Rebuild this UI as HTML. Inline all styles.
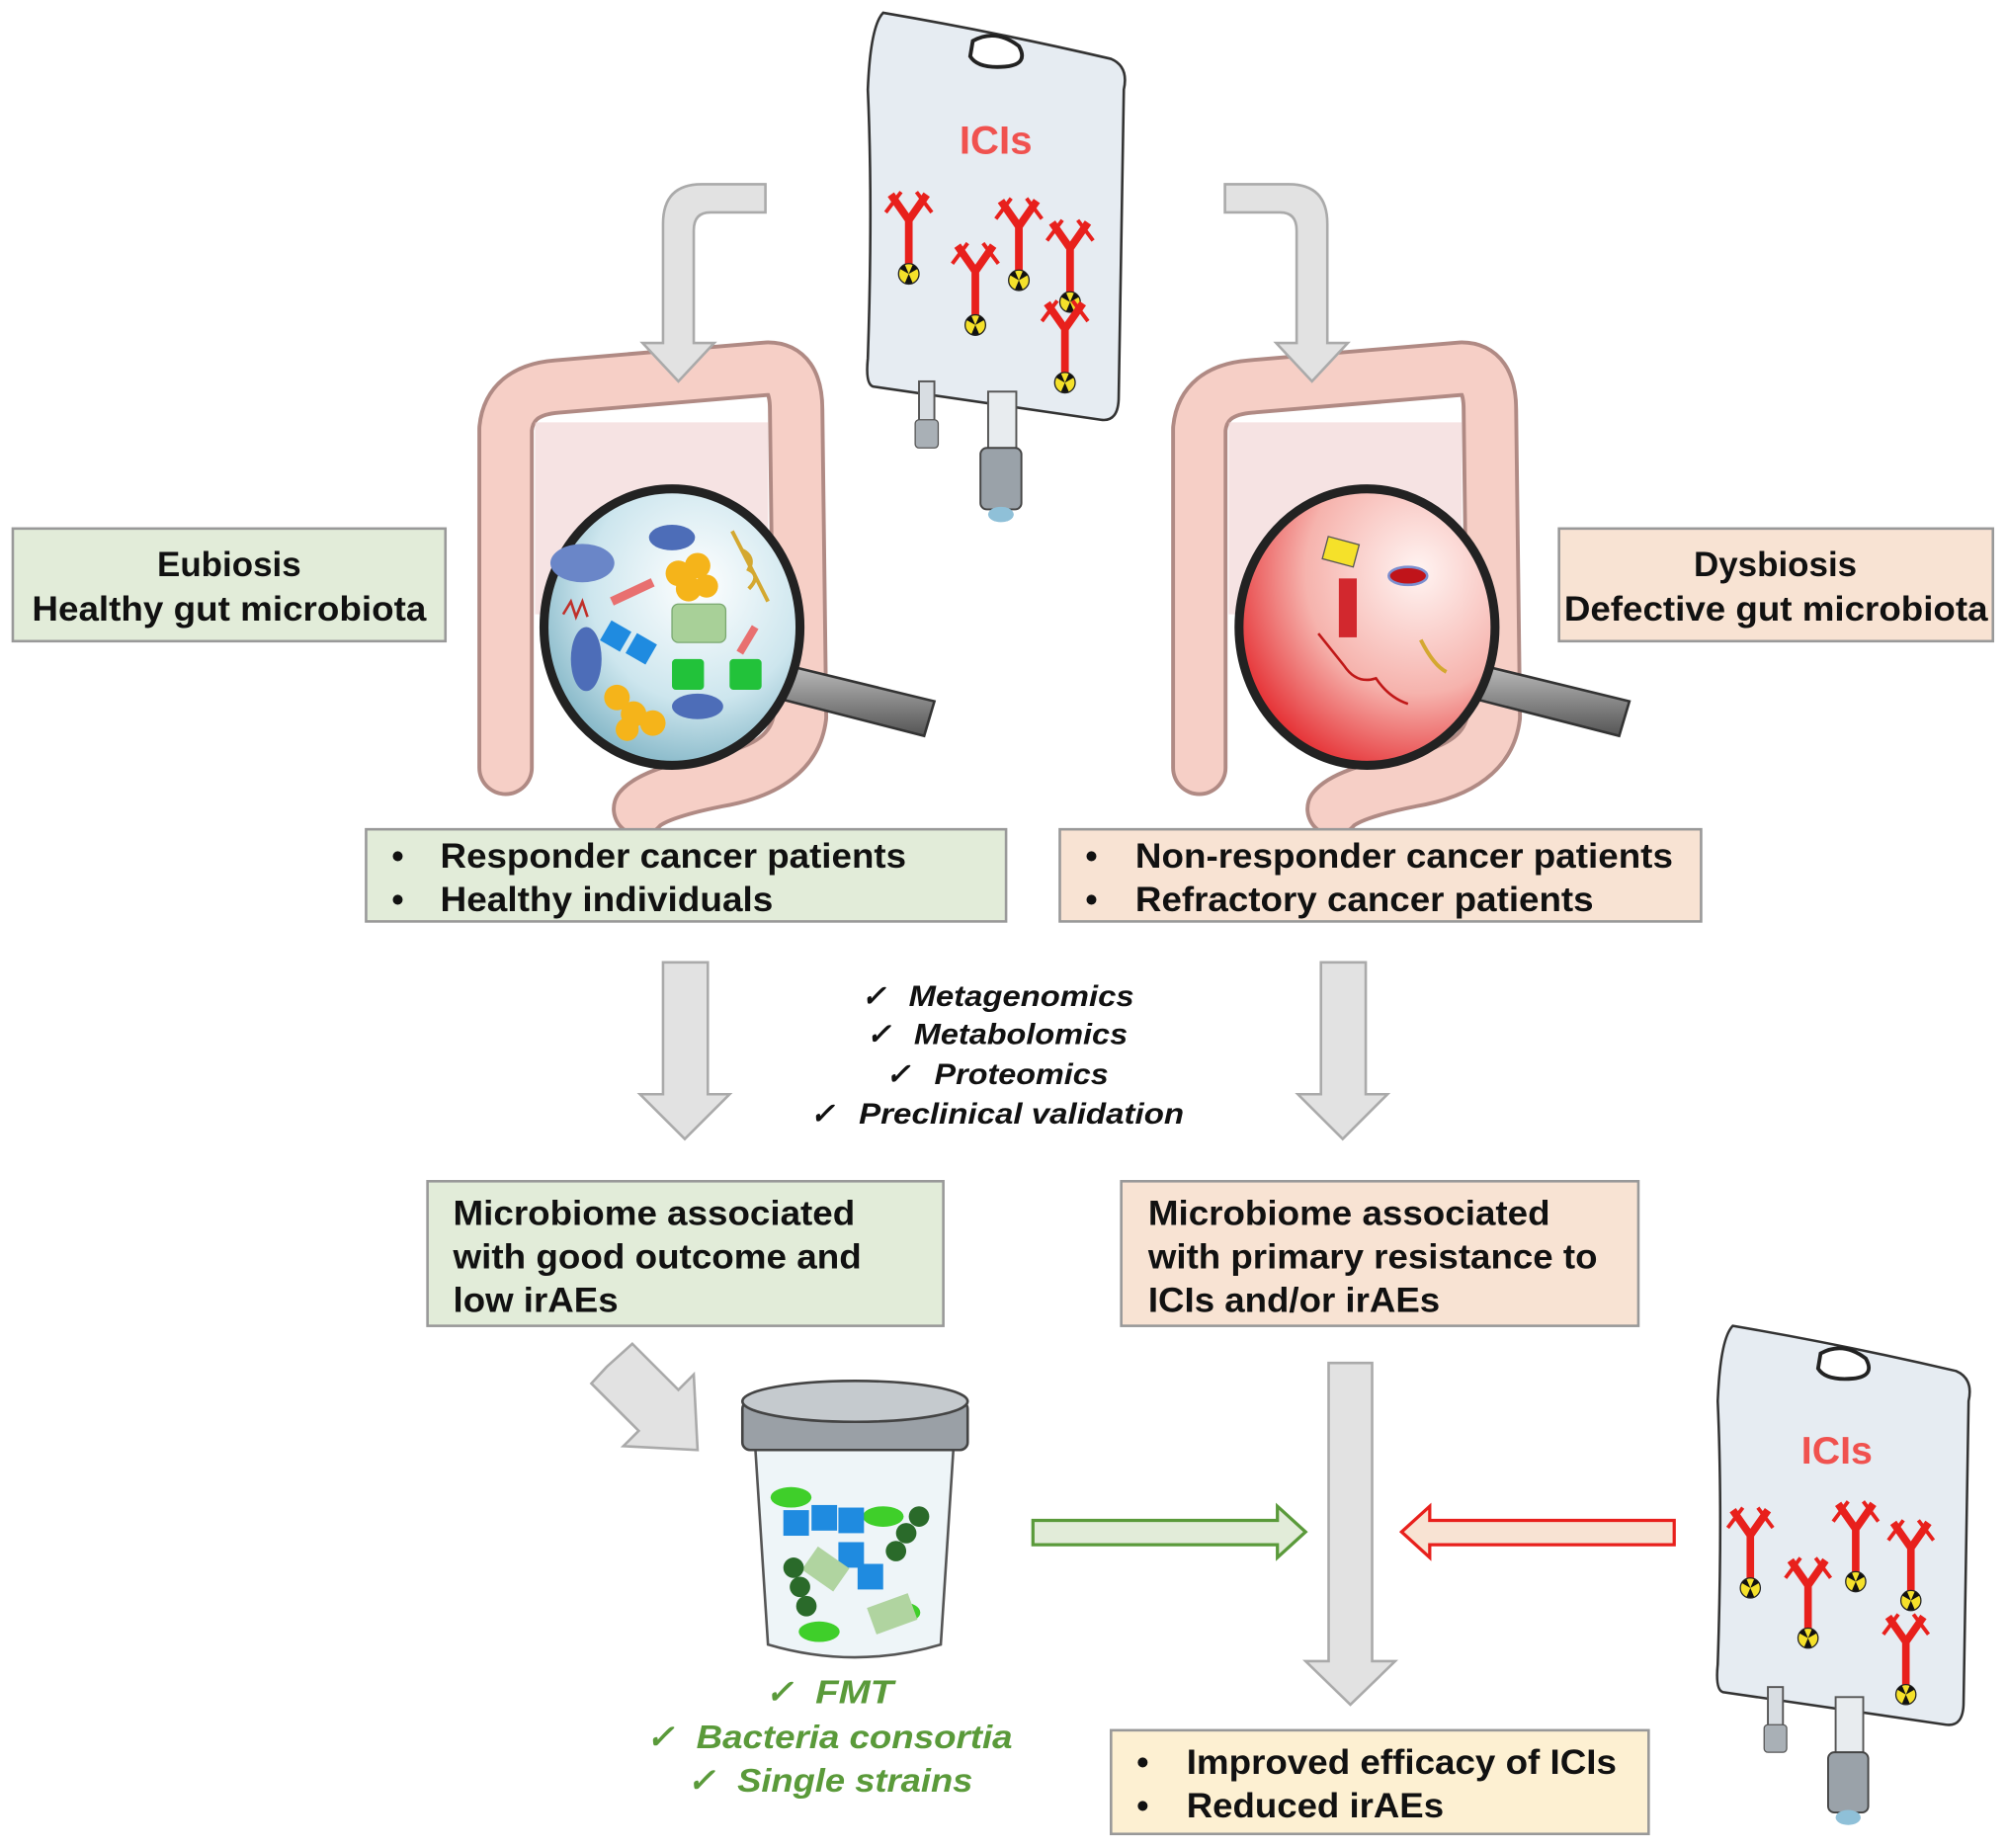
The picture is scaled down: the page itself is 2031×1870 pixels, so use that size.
<!DOCTYPE html>
<html><head><meta charset="utf-8"><style>
html,body{margin:0;padding:0;background:#fff}
svg{display:block}
text{font-family:"Liberation Sans",Arial,sans-serif}
</style></head><body>
<svg width="2031" height="1870" viewBox="0 0 1568 1444" preserveAspectRatio="none" xmlns="http://www.w3.org/2000/svg">
<defs>
<radialGradient id="gL" cx="0.6" cy="0.35" r="0.7"><stop offset="0" stop-color="#ffffff"/><stop offset="0.6" stop-color="#cde6ee"/><stop offset="1" stop-color="#7fb3c4"/></radialGradient>
<radialGradient id="gR" cx="0.7" cy="0.3" r="0.8"><stop offset="0" stop-color="#fff4f2"/><stop offset="0.55" stop-color="#f6b3ad"/><stop offset="1" stop-color="#e4262b"/></radialGradient>
<linearGradient id="hdl" x1="0" y1="0" x2="0" y2="1"><stop offset="0" stop-color="#bbb"/><stop offset="1" stop-color="#555"/></linearGradient>
<g id="ab">
  <path d="M0,0 L0,-38 M0,-38 L-14,-58 M0,-38 L14,-58" stroke="#e8201c" stroke-width="6" fill="none"/>
  <path d="M-6,-60 L-18,-44 M6,-60 L18,-44" stroke="#e8201c" stroke-width="3" fill="none"/>
  <circle cx="0" cy="4" r="8" fill="#f5e12a" stroke="#222" stroke-width="1"/>
  <path d="M0,4 L-7,0 A8,8 0 0 1 -3,-3 Z M0,4 L7,0 A8,8 0 0 0 3,-3 Z M0,4 L-3,11 A8,8 0 0 0 3,11 Z" fill="#111"/>
</g>
<g id="bag">
  <path d="M12,0 Q100,15 190,36 Q204,42 200,60 L196,300 Q196,320 182,318 L4,292 Q-2,290 0,270 Q4,150 0,60 Q2,10 12,0 Z" fill="#e6ecf2" stroke="#333" stroke-width="2"/>
  <path d="M82,22 Q100,12 118,26 Q126,40 108,42 Q86,44 80,34 Z" fill="#fff" stroke="#222" stroke-width="3"/>
  <rect x="40" y="288" width="12" height="40" fill="#d8dde2" stroke="#555" stroke-width="1.5"/>
  <rect x="37" y="318" width="18" height="22" rx="3" fill="#a9b0b6" stroke="#555"/>
  <rect x="94" y="296" width="22" height="50" fill="#e8ecef" stroke="#555" stroke-width="1.5"/>
  <rect x="88" y="340" width="32" height="48" rx="5" fill="#9aa2a9" stroke="#444" stroke-width="1.5"/>
  <ellipse cx="104" cy="392" rx="10" ry="6" fill="#8fc0d8"/>
</g>
</defs>

<!-- top bag -->
<g transform="translate(678,10)"><use href="#bag"/>
<text x="100" y="110" font-size="31" font-weight="bold" fill="#f0524f" text-anchor="middle">ICIs</text>
<use href="#ab" x="32" y="200"/><use href="#ab" x="84" y="240"/><use href="#ab" x="118" y="205"/><use href="#ab" x="158" y="222"/><use href="#ab" x="154" y="285"/>
</g>
<!-- bottom bag -->
<g transform="translate(1342,1036) scale(0.98)"><use href="#bag"/>
<text x="95" y="110" font-size="31" font-weight="bold" fill="#f0524f" text-anchor="middle">ICIs</text>
<use href="#ab" x="26" y="205"/><use href="#ab" x="72" y="245"/><use href="#ab" x="110" y="200"/><use href="#ab" x="154" y="215"/><use href="#ab" x="150" y="290"/>
</g>

<!-- colons -->
<g fill="none" stroke-linecap="round" stroke-linejoin="round">
<path d="M395,600 L395,335 Q398,305 435,302 L600,288 Q622,288 622,320 L625,560 Q620,600 560,610 Q510,620 500,632" stroke="#b08a84" stroke-width="44"/>
<path d="M395,600 L395,335 Q398,305 435,302 L600,288 Q622,288 622,320 L625,560 Q620,600 560,610 Q510,620 500,632" stroke="#f6cfc6" stroke-width="38"/>
<path d="M937,600 L937,335 Q940,305 977,302 L1142,288 Q1164,288 1164,320 L1167,560 Q1162,600 1102,610 Q1052,620 1042,632" stroke="#b08a84" stroke-width="44"/>
<path d="M937,600 L937,335 Q940,305 977,302 L1142,288 Q1164,288 1164,320 L1167,560 Q1162,600 1102,610 Q1052,620 1042,632" stroke="#f6cfc6" stroke-width="38"/>
</g>
<rect x="418" y="330" width="182" height="150" fill="#f0d0d0" opacity="0.6"/>
<rect x="960" y="330" width="182" height="150" fill="#f0d0d0" opacity="0.6"/>

<!-- curved arrows top -->
<path d="M598,144 L598,166 L555,166 Q542,166 542,180 L542,268 L558,268 L530,298 L502,268 L518,268 L518,175 Q518,144 548,144 Z" fill="#e2e2e2" stroke="#aaa" stroke-width="2"/>
<path d="M957,144 L957,166 L1000,166 Q1013,166 1013,180 L1013,268 L997,268 L1025,298 L1053,268 L1037,268 L1037,175 Q1037,144 1007,144 Z" fill="#e2e2e2" stroke="#aaa" stroke-width="2"/>

<!-- left magnifier -->
<path d="M615,520 L730,548 L722,575 L605,545 Z" fill="url(#hdl)" stroke="#333" stroke-width="2"/>
<ellipse cx="525" cy="490" rx="100" ry="108" fill="url(#gL)" stroke="#222" stroke-width="7"/>
<ellipse cx="455" cy="440" rx="25" ry="15" fill="#6a86c8"/>
<ellipse cx="525" cy="420" rx="18" ry="10" fill="#4d6db8"/>
<ellipse cx="458" cy="515" rx="12" ry="25" fill="#4d6db8"/>
<ellipse cx="545" cy="552" rx="20" ry="10" fill="#4d6db8"/>
<circle cx="530" cy="448" r="10" fill="#f5b41a"/><circle cx="545" cy="442" r="10" fill="#f5b41a"/><circle cx="538" cy="460" r="10" fill="#f5b41a"/><circle cx="552" cy="458" r="9" fill="#f5b41a"/>
<circle cx="482" cy="545" r="10" fill="#f5b41a"/><circle cx="495" cy="558" r="10" fill="#f5b41a"/><circle cx="510" cy="565" r="10" fill="#f5b41a"/><circle cx="490" cy="570" r="9" fill="#f5b41a"/>
<rect x="525" y="472" width="42" height="30" rx="5" fill="#a8d098" stroke="#7aa870"/>
<rect x="525" y="515" width="25" height="24" rx="3" fill="#22c23a"/><rect x="570" y="515" width="25" height="24" rx="3" fill="#22c23a"/>
<rect x="472" y="488" width="18" height="18" fill="#1f8be0" transform="rotate(30 481 497)"/><rect x="492" y="498" width="18" height="18" fill="#1f8be0" transform="rotate(30 501 507)"/>
<path d="M478,470 L510,455" stroke="#e87070" stroke-width="7"/><path d="M590,490 L578,510" stroke="#e87070" stroke-width="6"/>
<path d="M572,415 Q590,450 600,470 M580,430 q10,5 5,15 q10,5 0,15" stroke="#d4a830" stroke-width="3" fill="none"/>
<path d="M440,480 l6,-10 l4,12 l5,-12 l4,12" stroke="#c0302a" stroke-width="2" fill="none"/>

<!-- right magnifier -->
<path d="M1158,520 L1273,548 L1265,575 L1148,545 Z" fill="url(#hdl)" stroke="#333" stroke-width="2"/>
<ellipse cx="1068" cy="490" rx="100" ry="108" fill="url(#gR)" stroke="#222" stroke-width="7"/>
<rect x="1035" y="422" width="25" height="18" fill="#f5e12a" stroke="#555" transform="rotate(15 1047 431)"/>
<ellipse cx="1100" cy="450" rx="15" ry="7" fill="#c0141a" stroke="#7b8fd0" stroke-width="2"/>
<rect x="1046" y="452" width="14" height="46" fill="#d2282e"/>
<path d="M1030,495 L1050,520 M1050,520 q10,15 25,10 q10,15 25,20" stroke="#c01818" stroke-width="2" fill="none"/>
<path d="M1110,500 q10,20 20,25" stroke="#d4a830" stroke-width="3" fill="none"/>

<!-- text boxes -->
<g font-weight="bold" fill="#111" font-size="27">
<rect x="10" y="413" width="338" height="88" fill="#e2ecd9" stroke="#999" stroke-width="2"/>
<text x="179" y="450" text-anchor="middle">Eubiosis</text>
<text x="25" y="485" textLength="308" lengthAdjust="spacingAndGlyphs">Healthy gut microbiota</text>
<rect x="1218" y="413" width="339" height="88" fill="#f8e3d3" stroke="#999" stroke-width="2"/>
<text x="1387" y="450" text-anchor="middle">Dysbiosis</text>
<text x="1222" y="485" textLength="331" lengthAdjust="spacingAndGlyphs">Defective gut microbiota</text>

<rect x="286" y="648" width="500" height="72" fill="#e2ecd9" stroke="#999" stroke-width="2"/>
<text x="306" y="678">•</text><text x="344" y="678" textLength="364" lengthAdjust="spacingAndGlyphs">Responder cancer patients</text>
<text x="306" y="712">•</text><text x="344" y="712" textLength="260" lengthAdjust="spacingAndGlyphs">Healthy individuals</text>
<rect x="828" y="648" width="501" height="72" fill="#f8e3d3" stroke="#999" stroke-width="2"/>
<text x="848" y="678">•</text><text x="887" y="678" textLength="420" lengthAdjust="spacingAndGlyphs">Non-responder cancer patients</text>
<text x="848" y="712">•</text><text x="887" y="712" textLength="358" lengthAdjust="spacingAndGlyphs">Refractory cancer patients</text>

<rect x="334" y="923" width="403" height="113" fill="#e2ecd9" stroke="#999" stroke-width="2"/>
<text x="354" y="957" textLength="314" lengthAdjust="spacingAndGlyphs">Microbiome associated</text>
<text x="354" y="991" textLength="319" lengthAdjust="spacingAndGlyphs">with good outcome and</text>
<text x="354" y="1025" textLength="129" lengthAdjust="spacingAndGlyphs">low irAEs</text>
<rect x="876" y="923" width="404" height="113" fill="#f8e3d3" stroke="#999" stroke-width="2"/>
<text x="897" y="957" textLength="314" lengthAdjust="spacingAndGlyphs">Microbiome associated</text>
<text x="897" y="991" textLength="351" lengthAdjust="spacingAndGlyphs">with primary resistance to</text>
<text x="897" y="1025" textLength="228" lengthAdjust="spacingAndGlyphs">ICIs and/or irAEs</text>

<rect x="868" y="1352" width="420" height="81" fill="#fdf0d2" stroke="#999" stroke-width="2"/>
<text x="888" y="1386">•</text><text x="927" y="1386" textLength="336" lengthAdjust="spacingAndGlyphs">Improved efficacy of ICIs</text>
<text x="888" y="1420">•</text><text x="927" y="1420" textLength="201" lengthAdjust="spacingAndGlyphs">Reduced irAEs</text>
</g>

<!-- down arrows -->
<path d="M518,752 L553,752 L553,855 L570,855 L535,890 L500,855 L518,855 Z" fill="#e2e2e2" stroke="#aaa" stroke-width="2"/>
<path d="M1032,752 L1067,752 L1067,855 L1084,855 L1049,890 L1014,855 L1032,855 Z" fill="#e2e2e2" stroke="#aaa" stroke-width="2"/>
<path d="M1038,1065 L1072,1065 L1072,1298 L1090,1298 L1055,1332 L1020,1298 L1038,1298 Z" fill="#e2e2e2" stroke="#aaa" stroke-width="2"/>
<path d="M474,1068 L494,1050 L530,1086 L542,1074 L545,1133 L487,1130 L499,1118 L462,1081 Z" fill="#e2e2e2" stroke="#aaa" stroke-width="2"/>

<!-- check list -->
<g font-size="23" font-weight="bold" font-style="italic" fill="#111">
<text x="673" y="786">✓</text><text x="710" y="786" textLength="176" lengthAdjust="spacingAndGlyphs">Metagenomics</text>
<text x="677" y="816">✓</text><text x="714" y="816" textLength="167" lengthAdjust="spacingAndGlyphs">Metabolomics</text>
<text x="692" y="847">✓</text><text x="730" y="847" textLength="136" lengthAdjust="spacingAndGlyphs">Proteomics</text>
<text x="633" y="878">✓</text><text x="671" y="878" textLength="254" lengthAdjust="spacingAndGlyphs">Preclinical validation</text>
</g>

<!-- jar -->
<path d="M590,1130 L745,1130 L735,1285 Q668,1305 600,1285 Z" fill="#eef5f8" stroke="#555" stroke-width="2"/>
<rect x="580" y="1095" width="176" height="38" rx="6" fill="#9aa0a6" stroke="#444" stroke-width="2"/>
<ellipse cx="668" cy="1095" rx="88" ry="16" fill="#c5cace" stroke="#444" stroke-width="2"/>
<g>
<ellipse cx="618" cy="1170" rx="16" ry="8" fill="#3fcf2a"/><ellipse cx="690" cy="1185" rx="16" ry="8" fill="#3fcf2a"/><ellipse cx="640" cy="1275" rx="16" ry="8" fill="#3fcf2a"/><ellipse cx="705" cy="1260" rx="14" ry="8" fill="#3fcf2a"/>
<rect x="612" y="1180" width="20" height="20" fill="#1f8be0"/><rect x="634" y="1176" width="20" height="20" fill="#1f8be0"/><rect x="655" y="1178" width="20" height="20" fill="#1f8be0"/>
<rect x="655" y="1205" width="20" height="20" fill="#1f8be0"/><rect x="670" y="1222" width="20" height="20" fill="#1f8be0"/>
<rect x="630" y="1215" width="30" height="22" fill="#b0d4a0" transform="rotate(35 645 1226)"/><rect x="680" y="1250" width="34" height="22" fill="#b0d4a0" transform="rotate(-20 697 1261)"/>
<circle cx="620" cy="1225" r="8" fill="#2a6a2a"/><circle cx="625" cy="1240" r="8" fill="#2a6a2a"/><circle cx="630" cy="1255" r="8" fill="#2a6a2a"/>
<circle cx="718" cy="1185" r="8" fill="#2a6a2a"/><circle cx="708" cy="1198" r="8" fill="#2a6a2a"/><circle cx="700" cy="1212" r="8" fill="#2a6a2a"/>
</g>

<!-- green text -->
<g font-size="26" font-weight="bold" font-style="italic" fill="#5a9a3a">
<text x="598" y="1331">✓</text><text x="637" y="1331" textLength="61" lengthAdjust="spacingAndGlyphs">FMT</text>
<text x="505" y="1366">✓</text><text x="544" y="1366" textLength="247" lengthAdjust="spacingAndGlyphs">Bacteria consortia</text>
<text x="537" y="1400">✓</text><text x="576" y="1400" textLength="184" lengthAdjust="spacingAndGlyphs">Single strains</text>
</g>

<!-- hollow arrows -->
<path d="M807,1188 L998,1188 L998,1177 L1020,1197 L998,1217 L998,1207 L807,1207 Z" fill="#e2ecd9" stroke="#5a9a3a" stroke-width="2.5"/>
<path d="M1308,1188 L1117,1188 L1117,1177 L1095,1197 L1117,1217 L1117,1207 L1308,1207 Z" fill="#f8e3d3" stroke="#e8201c" stroke-width="2.5"/>
</svg>
</body></html>
